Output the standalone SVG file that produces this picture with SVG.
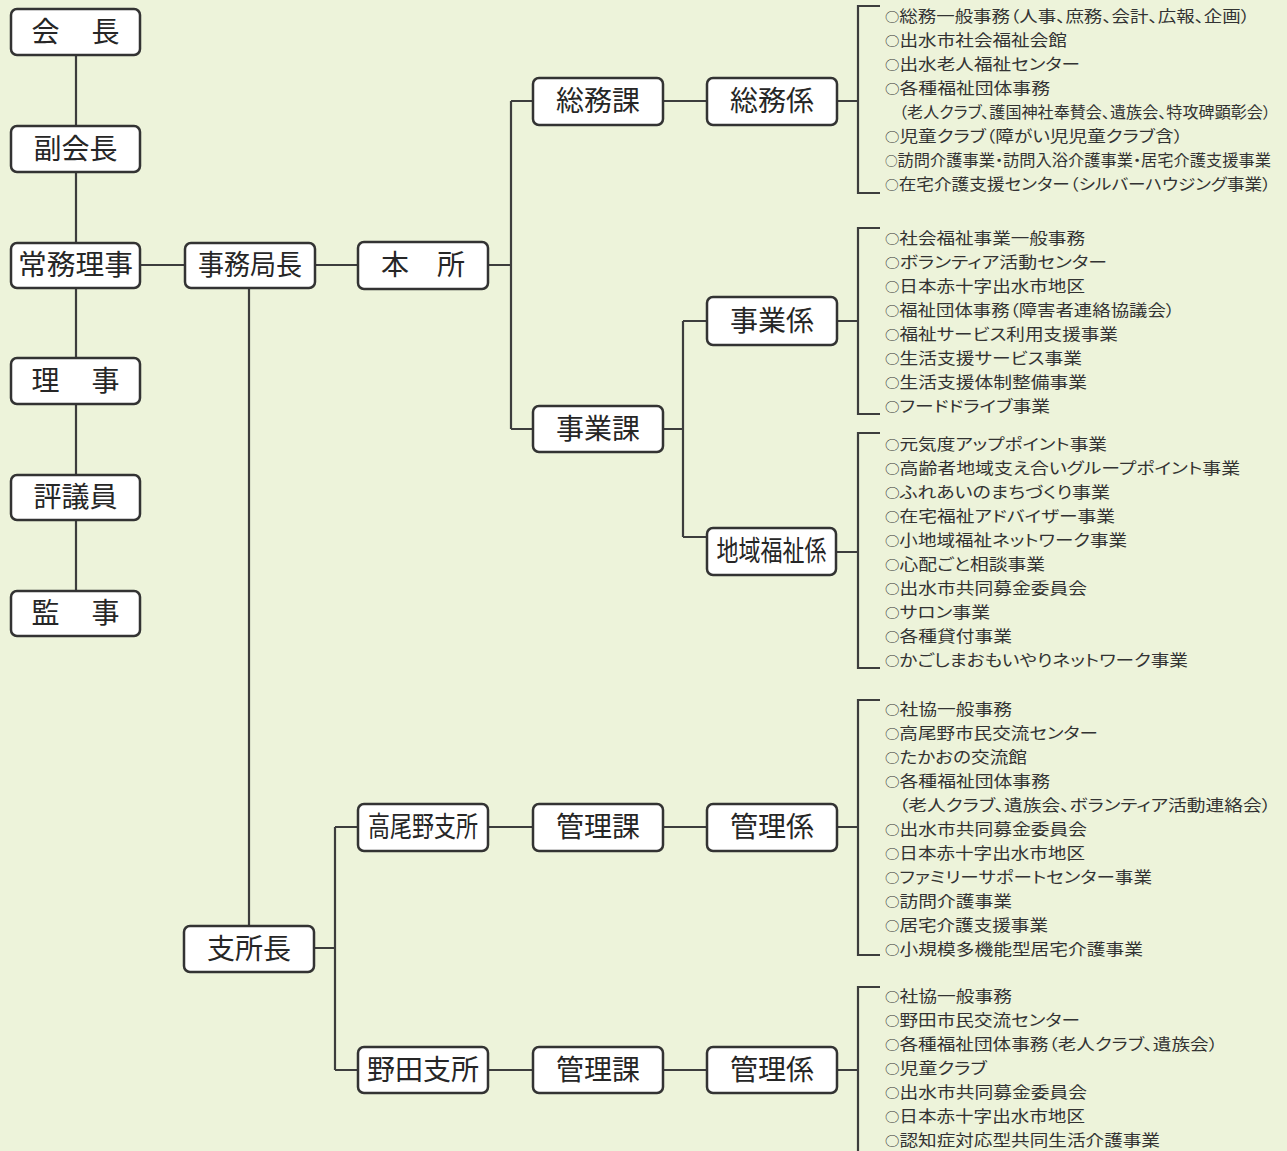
<svg xmlns="http://www.w3.org/2000/svg" width="1287" height="1151" viewBox="0 0 1287 1151">
<style>
.bg{fill:#edf3da}
.box{fill:#ffffff;stroke:#333333;stroke-width:2.5}
.nt{font-family:"Noto Sans CJK JP","Noto Sans CJK SC",sans-serif;font-size:28px;fill:#262626;text-anchor:middle}
.ln{fill:none;stroke:#3d3d3d;stroke-width:2.2}
.lt{font-family:"Noto Sans CJK JP","Noto Sans CJK SC",sans-serif;font-size:15.5px;fill:#333333;font-feature-settings:"palt"}
.c{font-size:12px}
</style>
<rect class="bg" x="0" y="0" width="1287" height="1151"/>
<g id="connectors">
<path class="ln" d="M76,55 V591"/>
<path class="ln" d="M140,265 H185 M315,265 H358 M488,265 H511 M511,101 V429 M511,101 H533 M511,429 H533"/>
<path class="ln" d="M663,101 H707 M837,101 H858"/>
<path class="ln" d="M663,429 H683 M683,321 V537 M683,321 H707 M683,537 H707 M837,321 H858 M836,552 H858"/>
<path class="ln" d="M249,288 V926 M314,948 H335 M335,827 V1070 M335,827 H358 M335,1070 H358"/>
<path class="ln" d="M488,827 H533 M663,827 H707 M837,827 H858 M488,1070 H533 M663,1070 H707 M837,1070 H858"/>
<path class="ln" d="M880,6 H858 V193 H880"/>
<path class="ln" d="M880,228 H858 V414 H880"/>
<path class="ln" d="M880,433 H858 V668 H880"/>
<path class="ln" d="M880,700 H858 V955 H880"/>
<path class="ln" d="M880,987 H858 V1151"/>
</g>
<g id="n-kaicho"><rect class="box" x="11" y="9" width="129" height="46" rx="6"/><text class="nt" x="75.5" y="42" textLength="88" lengthAdjust="spacing">会　長</text></g>
<g id="n-fukukaicho"><rect class="box" x="11" y="126" width="129" height="46" rx="6"/><text class="nt" x="75.5" y="159">副会長</text></g>
<g id="n-jomu"><rect class="box" x="11" y="243" width="129" height="45" rx="6"/><text class="nt" x="75.5" y="275" textLength="115" lengthAdjust="spacingAndGlyphs">常務理事</text></g>
<g id="n-riji"><rect class="box" x="11" y="358" width="129" height="46" rx="6"/><text class="nt" x="75.5" y="391" textLength="88" lengthAdjust="spacing">理　事</text></g>
<g id="n-hyogiin"><rect class="box" x="11" y="475" width="129" height="45" rx="6"/><text class="nt" x="75.5" y="507">評議員</text></g>
<g id="n-kanji"><rect class="box" x="11" y="591" width="129" height="45" rx="6"/><text class="nt" x="75.5" y="623" textLength="88" lengthAdjust="spacing">監　事</text></g>
<g id="n-jimukyokucho"><rect class="box" x="185" y="243" width="130" height="45" rx="6"/><text class="nt" x="250" y="275" textLength="104" lengthAdjust="spacingAndGlyphs">事務局長</text></g>
<g id="n-honsho"><rect class="box" x="358" y="242" width="130" height="47" rx="6"/><text class="nt" x="423" y="275">本　所</text></g>
<g id="n-somuka"><rect class="box" x="533" y="78" width="130" height="47" rx="6"/><text class="nt" x="598" y="111">総務課</text></g>
<g id="n-somukakari"><rect class="box" x="707" y="78" width="130" height="47" rx="6"/><text class="nt" x="772" y="111">総務係</text></g>
<g id="n-jigyoka"><rect class="box" x="533" y="406" width="130" height="46" rx="6"/><text class="nt" x="598" y="439">事業課</text></g>
<g id="n-jigyokakari"><rect class="box" x="707" y="297" width="130" height="48" rx="6"/><text class="nt" x="772" y="331">事業係</text></g>
<g id="n-chiiki"><rect class="box" x="707" y="528" width="129" height="47" rx="6"/><text class="nt" x="771.5" y="561" textLength="110" lengthAdjust="spacingAndGlyphs">地域福祉係</text></g>
<g id="n-shishocho"><rect class="box" x="184" y="926" width="130" height="46" rx="6"/><text class="nt" x="249" y="959">支所長</text></g>
<g id="n-takaono"><rect class="box" x="358" y="804" width="130" height="47" rx="6"/><text class="nt" x="423" y="837" textLength="110" lengthAdjust="spacingAndGlyphs">高尾野支所</text></g>
<g id="n-kanrika1"><rect class="box" x="533" y="804" width="130" height="47" rx="6"/><text class="nt" x="598" y="837">管理課</text></g>
<g id="n-kanrikakari1"><rect class="box" x="707" y="804" width="130" height="47" rx="6"/><text class="nt" x="772" y="837">管理係</text></g>
<g id="n-noda"><rect class="box" x="358" y="1047" width="130" height="46" rx="6"/><text class="nt" x="423" y="1080" textLength="112" lengthAdjust="spacingAndGlyphs">野田支所</text></g>
<g id="n-kanrika2"><rect class="box" x="533" y="1047" width="130" height="46" rx="6"/><text class="nt" x="598" y="1080">管理課</text></g>
<g id="n-kanrikakari2"><rect class="box" x="707" y="1047" width="130" height="46" rx="6"/><text class="nt" x="772" y="1080">管理係</text></g>
<g id="list-somu" class="lt">
<text x="885" y="22" textLength="365" lengthAdjust="spacingAndGlyphs"><tspan class="c">○</tspan>総務一般事務（人事、庶務、会計、広報、企画）</text>
<text x="885" y="46" textLength="182" lengthAdjust="spacingAndGlyphs"><tspan class="c">○</tspan>出水市社会福祉会館</text>
<text x="885" y="70" textLength="195" lengthAdjust="spacingAndGlyphs"><tspan class="c">○</tspan>出水老人福祉センター</text>
<text x="885" y="94" textLength="165" lengthAdjust="spacingAndGlyphs"><tspan class="c">○</tspan>各種福祉団体事務</text>
<text x="899" y="118" textLength="372" lengthAdjust="spacingAndGlyphs">（老人クラブ、護国神社奉賛会、遺族会、特攻碑顕彰会）</text>
<text x="885" y="142" textLength="298" lengthAdjust="spacingAndGlyphs"><tspan class="c">○</tspan>児童クラブ（障がい児児童クラブ含）</text>
<text x="885" y="166" textLength="386" lengthAdjust="spacingAndGlyphs"><tspan class="c">○</tspan>訪問介護事業・訪問入浴介護事業・居宅介護支援事業</text>
<text x="885" y="190" textLength="386" lengthAdjust="spacingAndGlyphs"><tspan class="c">○</tspan>在宅介護支援センター（シルバーハウジング事業）</text>
</g>
<g id="list-jigyo" class="lt">
<text x="885" y="244" textLength="200" lengthAdjust="spacingAndGlyphs"><tspan class="c">○</tspan>社会福祉事業一般事務</text>
<text x="885" y="268" textLength="222" lengthAdjust="spacingAndGlyphs"><tspan class="c">○</tspan>ボランティア活動センター</text>
<text x="885" y="292" textLength="200" lengthAdjust="spacingAndGlyphs"><tspan class="c">○</tspan>日本赤十字出水市地区</text>
<text x="885" y="316" textLength="290" lengthAdjust="spacingAndGlyphs"><tspan class="c">○</tspan>福祉団体事務（障害者連絡協議会）</text>
<text x="885" y="340" textLength="233" lengthAdjust="spacingAndGlyphs"><tspan class="c">○</tspan>福祉サービス利用支援事業</text>
<text x="885" y="364" textLength="197" lengthAdjust="spacingAndGlyphs"><tspan class="c">○</tspan>生活支援サービス事業</text>
<text x="885" y="388" textLength="202" lengthAdjust="spacingAndGlyphs"><tspan class="c">○</tspan>生活支援体制整備事業</text>
<text x="885" y="412" textLength="165" lengthAdjust="spacingAndGlyphs"><tspan class="c">○</tspan>フードドライブ事業</text>
</g>
<g id="list-chiiki" class="lt">
<text x="885" y="450" textLength="222" lengthAdjust="spacingAndGlyphs"><tspan class="c">○</tspan>元気度アップポイント事業</text>
<text x="885" y="474" textLength="355" lengthAdjust="spacingAndGlyphs"><tspan class="c">○</tspan>高齢者地域支え合いグループポイント事業</text>
<text x="885" y="498" textLength="225" lengthAdjust="spacingAndGlyphs"><tspan class="c">○</tspan>ふれあいのまちづくり事業</text>
<text x="885" y="522" textLength="230" lengthAdjust="spacingAndGlyphs"><tspan class="c">○</tspan>在宅福祉アドバイザー事業</text>
<text x="885" y="546" textLength="242" lengthAdjust="spacingAndGlyphs"><tspan class="c">○</tspan>小地域福祉ネットワーク事業</text>
<text x="885" y="570" textLength="160" lengthAdjust="spacingAndGlyphs"><tspan class="c">○</tspan>心配ごと相談事業</text>
<text x="885" y="594" textLength="202" lengthAdjust="spacingAndGlyphs"><tspan class="c">○</tspan>出水市共同募金委員会</text>
<text x="885" y="618" textLength="105" lengthAdjust="spacingAndGlyphs"><tspan class="c">○</tspan>サロン事業</text>
<text x="885" y="642" textLength="127" lengthAdjust="spacingAndGlyphs"><tspan class="c">○</tspan>各種貸付事業</text>
<text x="885" y="666" textLength="303" lengthAdjust="spacingAndGlyphs"><tspan class="c">○</tspan>かごしまおもいやりネットワーク事業</text>
</g>
<g id="list-takaono" class="lt">
<text x="885" y="715" textLength="127" lengthAdjust="spacingAndGlyphs"><tspan class="c">○</tspan>社協一般事務</text>
<text x="885" y="739" textLength="213" lengthAdjust="spacingAndGlyphs"><tspan class="c">○</tspan>高尾野市民交流センター</text>
<text x="885" y="763" textLength="142" lengthAdjust="spacingAndGlyphs"><tspan class="c">○</tspan>たかおの交流館</text>
<text x="885" y="787" textLength="165" lengthAdjust="spacingAndGlyphs"><tspan class="c">○</tspan>各種福祉団体事務</text>
<text x="899" y="811" textLength="372" lengthAdjust="spacingAndGlyphs">（老人クラブ、遺族会、ボランティア活動連絡会）</text>
<text x="885" y="835" textLength="202" lengthAdjust="spacingAndGlyphs"><tspan class="c">○</tspan>出水市共同募金委員会</text>
<text x="885" y="859" textLength="200" lengthAdjust="spacingAndGlyphs"><tspan class="c">○</tspan>日本赤十字出水市地区</text>
<text x="885" y="883" textLength="267" lengthAdjust="spacingAndGlyphs"><tspan class="c">○</tspan>ファミリーサポートセンター事業</text>
<text x="885" y="907" textLength="127" lengthAdjust="spacingAndGlyphs"><tspan class="c">○</tspan>訪問介護事業</text>
<text x="885" y="931" textLength="163" lengthAdjust="spacingAndGlyphs"><tspan class="c">○</tspan>居宅介護支援事業</text>
<text x="885" y="955" textLength="258" lengthAdjust="spacingAndGlyphs"><tspan class="c">○</tspan>小規模多機能型居宅介護事業</text>
</g>
<g id="list-noda" class="lt">
<text x="885" y="1002" textLength="127" lengthAdjust="spacingAndGlyphs"><tspan class="c">○</tspan>社協一般事務</text>
<text x="885" y="1026" textLength="195" lengthAdjust="spacingAndGlyphs"><tspan class="c">○</tspan>野田市民交流センター</text>
<text x="885" y="1050" textLength="333" lengthAdjust="spacingAndGlyphs"><tspan class="c">○</tspan>各種福祉団体事務（老人クラブ、遺族会）</text>
<text x="885" y="1074" textLength="102" lengthAdjust="spacingAndGlyphs"><tspan class="c">○</tspan>児童クラブ</text>
<text x="885" y="1098" textLength="202" lengthAdjust="spacingAndGlyphs"><tspan class="c">○</tspan>出水市共同募金委員会</text>
<text x="885" y="1122" textLength="200" lengthAdjust="spacingAndGlyphs"><tspan class="c">○</tspan>日本赤十字出水市地区</text>
<text x="885" y="1146" textLength="275" lengthAdjust="spacingAndGlyphs"><tspan class="c">○</tspan>認知症対応型共同生活介護事業</text>
</g>
</svg>
